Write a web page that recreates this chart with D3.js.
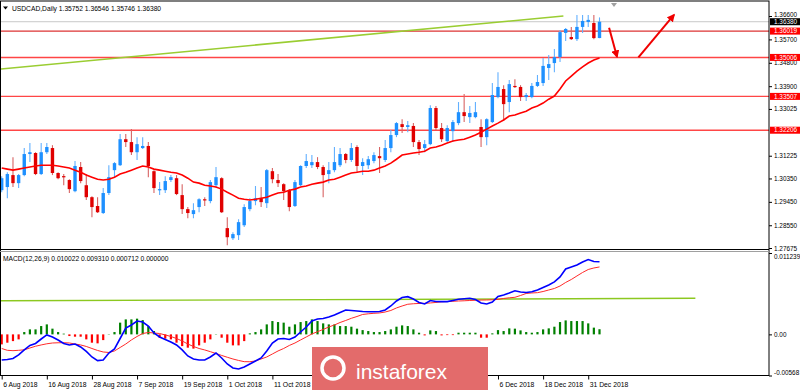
<!DOCTYPE html>
<html>
<head>
<meta charset="utf-8">
<script src="https://cdn.jsdelivr.net/npm/d3@7"></script>
<style>
  body { margin: 0; background: #fff; }
  svg { display: block; }
  text { font-family: "Liberation Sans", Arial, sans-serif; }
</style>
</head>
<body>
<div id="chart"></div>
<script>
// ---- data ----
const dateTicks = [0, 8, 16, 24, 32, 40, 48, 88, 96, 104];
const dateLabels = ["6 Aug 2018", "16 Aug 2018", "28 Aug 2018", "7 Sep 2018", "19 Sep 2018",
  "1 Oct 2018", "11 Oct 2018", "6 Dec 2018", "18 Dec 2018", "31 Dec 2018"];

const open = [1.2990,1.3002,1.3048,1.3017,1.3048,1.3129,1.3133,1.3052,1.3136,1.3152,
  1.3056,1.3044,1.3029,1.2986,1.3079,1.3009,1.2963,1.2929,1.2902,1.2979,
  1.3067,1.3086,1.3186,1.3175,1.3136,1.3152,1.3160,1.3063,1.2990,1.2990,
  1.3029,1.3036,1.2971,1.2917,1.2898,1.2925,1.2955,1.2948,1.3009,1.3036,
  1.2844,1.2805,1.2817,1.2855,1.2917,1.2948,1.2959,1.2940,1.3063,1.3029,
  1.3013,1.2990,1.2929,1.3009,1.3083,1.3086,1.3098,1.3079,1.3052,1.3067,
  1.3086,1.3129,1.3106,1.3156,1.3083,1.3086,1.3102,1.3121,1.3106,1.3152,
  1.3202,1.3244,1.3233,1.3237,1.3175,1.3152,1.3167,1.3306,1.3229,1.3179,
  1.3217,1.3248,1.3290,1.3271,1.3271,1.3233,1.3194,1.3252,1.3348,1.3379,
  1.3329,1.3391,1.3387,1.3348,1.3348,1.3391,1.3402,1.3460,1.3479,1.3502,
  1.3595,1.3579,1.3571,1.3618,1.3637,1.3633,1.35752];
const high = [1.3044,1.3059,1.3117,1.3052,1.3152,1.3171,1.3136,1.3171,1.3171,1.3163,
  1.3059,1.3052,1.3032,1.3102,1.3098,1.3052,1.2967,1.2963,1.2998,1.3086,
  1.3098,1.3206,1.3206,1.3225,1.3194,1.3194,1.3175,1.3067,1.3021,1.3044,
  1.3048,1.3048,1.3013,1.2925,1.2940,1.2959,1.2963,1.3029,1.3079,1.3040,
  1.2886,1.2828,1.2878,1.2936,1.2959,1.3006,1.3002,1.3071,1.3075,1.3052,
  1.3017,1.2994,1.3029,1.3086,1.3129,1.3125,1.3117,1.3086,1.3098,1.3156,
  1.3152,1.3133,1.3171,1.3163,1.3113,1.3121,1.3136,1.3156,1.3183,1.3221,
  1.3252,1.3263,1.3256,1.3248,1.3183,1.3183,1.3317,1.3314,1.3248,1.3240,
  1.3260,1.3329,1.3360,1.3314,1.3329,1.3263,1.3267,1.3402,1.3444,1.3394,
  1.3414,1.3417,1.3394,1.3364,1.3402,1.3433,1.3498,1.3510,1.3533,1.3606,
  1.3614,1.3618,1.3664,1.3664,1.3664,1.3664,1.36546];
const low = [1.2982,1.2959,1.3002,1.2998,1.3044,1.3098,1.3048,1.3048,1.3129,1.3048,
  1.3032,1.3009,1.2979,1.2982,1.3017,1.2952,1.2886,1.2902,1.2898,1.2971,
  1.3040,1.3083,1.3156,1.3125,1.3106,1.3148,1.3040,1.2979,1.2971,1.2979,
  1.3021,1.2971,1.2898,1.2882,1.2882,1.2905,1.2929,1.2940,1.2998,1.2902,
  1.2778,1.2798,1.2798,1.2848,1.2909,1.2932,1.2925,1.2921,1.3017,1.3002,
  1.2952,1.2909,1.2925,1.3006,1.3075,1.3075,1.3071,1.2963,1.3017,1.3059,
  1.3079,1.3094,1.3098,1.3059,1.3048,1.3071,1.3094,1.3056,1.3098,1.3136,
  1.3194,1.3210,1.3213,1.3156,1.3125,1.3136,1.3163,1.3221,1.3175,1.3175,
  1.3175,1.3240,1.3252,1.3248,1.3267,1.3156,1.3163,1.3248,1.3344,1.3256,
  1.3290,1.3383,1.3333,1.3333,1.3344,1.3387,1.3391,1.3414,1.3444,1.3483,
  1.3564,1.3568,1.3564,1.3595,1.3618,1.3571,1.35746];
const close = [1.3036,1.3052,1.3017,1.3048,1.3129,1.3136,1.3052,1.3136,1.3156,1.3056,
  1.3036,1.3040,1.2994,1.3083,1.3025,1.2963,1.2925,1.2905,1.2979,1.3040,
  1.3094,1.3186,1.3175,1.3136,1.3167,1.3160,1.3083,1.2998,1.2994,1.3025,
  1.3040,1.2975,1.2917,1.2902,1.2913,1.2955,1.2952,1.3021,1.3040,1.2905,
  1.2809,1.2821,1.2867,1.2925,1.2948,1.2959,1.2944,1.3067,1.3032,1.3017,
  1.2986,1.2925,1.3021,1.3083,1.3102,1.3098,1.3079,1.3048,1.3067,1.3098,
  1.3129,1.3106,1.3152,1.3083,1.3098,1.3109,1.3125,1.3113,1.3152,1.3202,
  1.3248,1.3233,1.3240,1.3175,1.3148,1.3167,1.3306,1.3229,1.3186,1.3229,
  1.3252,1.3290,1.3275,1.3287,1.3290,1.3194,1.3263,1.3356,1.3387,1.3321,
  1.3398,1.3387,1.3348,1.3356,1.3391,1.3406,1.3468,1.3475,1.3502,1.3598,
  1.3610,1.3571,1.3618,1.3641,1.3645,1.3575,1.36380];

const movingAvg = [1.3075,1.3071,1.3067,1.3071,1.3075,1.3079,1.3083,1.3086,1.3086,1.3086,
  1.3083,1.3079,1.3075,1.3067,1.3059,1.3048,1.3040,1.3032,1.3029,1.3032,
  1.3040,1.3052,1.3059,1.3067,1.3075,1.3083,1.3079,1.3071,1.3067,1.3063,
  1.3059,1.3056,1.3048,1.3036,1.3021,1.3017,1.3009,1.3006,1.3002,1.2994,
  1.2982,1.2971,1.2959,1.2955,1.2952,1.2955,1.2959,1.2963,1.2971,1.2979,
  1.2982,1.2990,1.2994,1.3002,1.3006,1.3013,1.3017,1.3021,1.3029,1.3032,
  1.3040,1.3048,1.3056,1.3059,1.3063,1.3063,1.3067,1.3075,1.3083,1.3094,
  1.3109,1.3125,1.3129,1.3133,1.3136,1.3140,1.3152,1.3156,1.3163,1.3171,
  1.3179,1.3183,1.3186,1.3194,1.3202,1.3213,1.3225,1.3237,1.3248,1.3260,
  1.3275,1.3279,1.3287,1.3294,1.3306,1.3314,1.3325,1.3340,1.3352,1.3379,
  1.3410,1.3429,1.3448,1.3464,1.3479,1.3491,1.3498];

const macdMain = [-0.00354,-0.00347,-0.00333,-0.00284,-0.00215,-0.00153,-0.00126,-0.00064,-0.00008,-0.00036,
  -0.00077,-0.00126,-0.00146,-0.00133,-0.00174,-0.00236,-0.00312,-0.00363,-0.00354,-0.00257,
  -0.00202,-0.00057,0.00088,0.00130,0.00185,0.00171,0.00116,0.00019,-0.00036,-0.00070,
  -0.00105,-0.00146,-0.00215,-0.00298,-0.00340,-0.00354,-0.00354,-0.00312,-0.00257,-0.00326,
  -0.00409,-0.00464,-0.00478,-0.00450,-0.00409,-0.00367,-0.00326,-0.00229,-0.00119,-0.00064,
  -0.00057,-0.00070,-0.00036,0.00033,0.00102,0.00185,0.00213,0.00220,0.00240,0.00268,
  0.00302,0.00337,0.00330,0.00323,0.00316,0.00313,0.00313,0.00316,0.00337,0.00392,
  0.00461,0.00510,0.00521,0.00489,0.00441,0.00420,0.00468,0.00454,0.00452,0.00452,
  0.00468,0.00485,0.00493,0.00499,0.00482,0.00434,0.00420,0.00447,0.00523,0.00544,
  0.00572,0.00603,0.00586,0.00579,0.00588,0.00613,0.00648,0.00682,0.00724,0.00793,
  0.00903,0.00931,0.00958,0.01000,0.01034,0.01007,0.010022];
const macdSignal = [-0.00195,-0.00220,-0.00225,-0.00220,-0.00213,-0.00188,-0.00164,-0.00146,-0.00130,-0.00119,
  -0.00116,-0.00115,-0.00119,-0.00133,-0.00146,-0.00167,-0.00195,-0.00222,-0.00243,-0.00250,
  -0.00229,-0.00181,-0.00133,-0.00077,-0.00029,0.00012,0.00026,0.00019,0.00012,-0.00008,
  -0.00029,-0.00057,-0.00091,-0.00133,-0.00167,-0.00195,-0.00215,-0.00239,-0.00264,-0.00291,
  -0.00316,-0.00340,-0.00360,-0.00377,-0.00378,-0.00367,-0.00340,-0.00312,-0.00271,-0.00229,
  -0.00195,-0.00153,-0.00119,-0.00077,-0.00036,0.00006,0.00037,0.00068,0.00102,0.00130,
  0.00164,0.00192,0.00222,0.00247,0.00275,0.00284,0.00291,0.00296,0.00309,0.00330,
  0.00365,0.00392,0.00416,0.00423,0.00427,0.00429,0.00434,0.00441,0.00450,0.00454,
  0.00457,0.00461,0.00464,0.00468,0.00471,0.00474,0.00475,0.00478,0.00483,0.00496,
  0.00505,0.00512,0.00537,0.00565,0.00572,0.00576,0.00592,0.00613,0.00634,0.00668,
  0.00717,0.00758,0.00807,0.00855,0.00896,0.00917,0.009310];
const macdHist = [-0.00138,-0.00115,-0.00093,-0.00069,0.00032,0.00069,0.00069,0.00115,0.00138,0.00079,
  0.00032,0.00010,-0.00023,-0.00032,-0.00032,-0.00069,-0.00115,-0.00124,-0.00079,0.00004,
  0.00032,0.00162,0.00207,0.00207,0.00217,0.00197,0.00115,0.00046,-0.00046,-0.00059,
  -0.00069,-0.00115,-0.00162,-0.00184,-0.00197,-0.00152,-0.00115,-0.00069,0.00004,-0.00046,
  -0.00115,-0.00152,-0.00152,-0.00093,0.00014,0.00032,0.00069,0.00138,0.00184,0.00170,
  0.00162,0.00106,0.00138,0.00170,0.00184,0.00207,0.00184,0.00152,0.00138,0.00138,
  0.00115,0.00115,0.00106,0.00079,0.00059,0.00046,0.00032,0.00032,0.00046,0.00069,
  0.00106,0.00124,0.00115,0.00069,0.00023,-0.00014,0.00055,0.00046,-0.00014,-0.00010,
  -0.00010,0.00023,0.00023,0.00023,0.00023,-0.00046,-0.00046,0.00014,0.00059,0.00046,
  0.00083,0.00079,0.00055,0.00032,0.00023,0.00032,0.00069,0.00083,0.00106,0.00170,
  0.00193,0.00184,0.00184,0.00184,0.00152,0.00093,0.000712];

const priceTicks = [1.36600, 1.35700, 1.34800, 1.33900, 1.33025, 1.31225, 1.30350, 1.29450, 1.28550, 1.27675];
const levelPrices = [1.36019, 1.35006, 1.33507, 1.32206];
const bidPrice = 1.36380;
const macdTicks = [0.011239, 0, -0.00568];
const macdTickLabels = ["0.011239", "0.00", "-0.00568"];

// drawn objects: [bar index, value]
const trendMain = [[-0.3, 1.3456], [99.6, 1.3660]];
const trendMacd = [[-0.3, 0.00465], [123.0, 0.00498]];
const arrowDown = [[107.7, 1.3615], [109.1, 1.3503]];
const arrowUp = [[112.9, 1.3501], [119.2, 1.3664]];

// ---- layout ----
const W = 800, H = 390, axisX = 769;
const x = d3.scaleLinear().domain([0, 106]).range([1.7, 599.5]);
const y = d3.scaleLinear().domain([1.27675, 1.36600]).range([248, 16]);
const ym = d3.scaleLinear().domain([-0.00568, 0.011239]).range([375.5, 253]);
const fs = 6.4;

const svg = d3.select("#chart").append("svg")
  .attr("width", W).attr("height", H)
  .style("background", "#fff");

const defs = svg.append("defs");
defs.append("clipPath").attr("id", "clipMain")
  .append("rect").attr("x", 1).attr("y", 2).attr("width", axisX - 1).attr("height", 246);
defs.append("clipPath").attr("id", "clipMacd")
  .append("rect").attr("x", 1).attr("y", 252).attr("width", axisX - 1).attr("height", 123);
defs.append("marker").attr("id", "arrowHead")
  .attr("viewBox", "0 0 10 10").attr("refX", 8).attr("refY", 5)
  .attr("markerWidth", 4).attr("markerHeight", 4).attr("orient", "auto")
  .append("path").attr("d", "M0,0 L10,5 L0,10 z").attr("fill", "#f00000");

const main = svg.append("g").attr("clip-path", "url(#clipMain)");
const sub = svg.append("g").attr("clip-path", "url(#clipMacd)");

// Horizontal levels
main.append("line")
  .attr("x1", 0).attr("x2", axisX).attr("y1", y(bidPrice)).attr("y2", y(bidPrice))
  .attr("stroke", "#c8c8c8").attr("stroke-width", 1);
main.selectAll(".level").data(levelPrices).join("line")
  .attr("x1", 0).attr("x2", axisX)
  .attr("y1", d => y(d)).attr("y2", d => y(d))
  .attr("stroke", (d, i) => i === 0 ? "#d40000" : "#ff4646")
  .attr("stroke-width", (d, i) => i === 0 ? 1 : 1.4);

// Green trend line
const lineXY = d3.line().x(d => x(d[0])).y(d => y(d[1]));
main.append("path").attr("d", lineXY(trendMain))
  .attr("fill", "none").attr("stroke", "#9acd32").attr("stroke-width", 1.6);

// Candles
const candles = open.map((o, i) => ({ i, o, h: high[i], l: low[i], c: close[i] }));
main.selectAll(".wick").data(candles).join("line")
  .attr("x1", d => x(d.i)).attr("x2", d => x(d.i))
  .attr("y1", d => y(d.h)).attr("y2", d => y(d.l))
  .attr("stroke", d => d.c >= d.o ? "#62b0ff" : "#d86464")
  .attr("stroke-width", 1.1);
main.selectAll(".body").data(candles).join("rect")
  .attr("x", d => x(d.i) - 1.7).attr("width", 3.4)
  .attr("y", d => y(Math.max(d.o, d.c)))
  .attr("height", d => Math.max(1.2, Math.abs(y(d.o) - y(d.c))))
  .attr("fill", d => d.c >= d.o ? "#1e90ff" : "#e00000");

// Moving average
main.append("path")
  .attr("d", d3.line().x((d, i) => x(i)).y(d => y(d))(movingAvg))
  .attr("fill", "none").attr("stroke", "#ff0000").attr("stroke-width", 1.6);

// Arrows
[arrowDown, arrowUp].forEach(a => {
  main.append("path").attr("d", lineXY(a))
    .attr("fill", "none").attr("stroke", "#f00000").attr("stroke-width", 2)
    .attr("marker-end", "url(#arrowHead)");
});

// MACD panel
sub.append("path")
  .attr("d", d3.line().x(d => x(d[0])).y(d => ym(d[1]))(trendMacd))
  .attr("fill", "none").attr("stroke", "#8cc820").attr("stroke-width", 1.4);
sub.selectAll(".hist").data(macdHist).join("rect")
  .attr("x", (d, i) => x(i) - 1.1).attr("width", 2.2)
  .attr("y", d => Math.min(ym(d), ym(0)))
  .attr("height", d => Math.abs(ym(d) - ym(0)))
  .attr("fill", d => d >= 0 ? "#008000" : "#ff0000");
sub.append("path")
  .attr("d", d3.line().x((d, i) => x(i)).y(d => ym(d))(macdSignal))
  .attr("fill", "none").attr("stroke", "#ff2a2a").attr("stroke-width", 1);
sub.append("path")
  .attr("d", d3.line().x((d, i) => x(i)).y(d => ym(d))(macdMain))
  .attr("fill", "none").attr("stroke", "#0000ff").attr("stroke-width", 1.6);

// Frame
svg.append("rect").attr("x", 0.5).attr("y", 1).attr("width", axisX - 0.5).attr("height", 374.5)
  .attr("fill", "none").attr("stroke", "#000").attr("stroke-width", 1);
svg.append("line").attr("x1", 0).attr("x2", axisX).attr("y1", 249.5).attr("y2", 249.5)
  .attr("stroke", "#000");
svg.append("line").attr("x1", 0).attr("x2", axisX).attr("y1", 251.5).attr("y2", 251.5)
  .attr("stroke", "#a0a0a0");

// Price axis
const yAxis = svg.append("g").attr("transform", `translate(${axisX},0)`)
  .call(d3.axisRight(y).tickValues(priceTicks).tickFormat(d3.format(".5f")).tickSize(3).tickPadding(2));
yAxis.select(".domain").remove();
yAxis.selectAll("text").attr("font-size", fs).attr("fill", "#000");
yAxis.selectAll(".tick").filter(d => d === priceTicks[0]).select("text").attr("dy", "0.05em");

const mAxis = svg.append("g").attr("transform", `translate(${axisX},0)`)
  .call(d3.axisRight(ym).tickValues(macdTicks).tickFormat((d, i) => macdTickLabels[i]).tickSize(3).tickPadding(2));
mAxis.select(".domain").remove();
mAxis.selectAll("text").attr("font-size", fs).attr("fill", "#000");
mAxis.selectAll(".tick").filter(d => d === macdTicks[0]).select("text").attr("dy", "0.85em");
mAxis.selectAll(".tick").filter(d => d === macdTicks[2]).select("text").attr("dy", "-0.2em");

// Level labels on the axis
const tags = [{ v: bidPrice, bg: "#000" }].concat(levelPrices.map(v => ({ v, bg: "#ff0000" })));
const tag = svg.selectAll(".tag").data(tags).join("g")
  .attr("transform", d => `translate(${axisX + 1},${y(d.v)})`);
tag.append("rect").attr("x", 0).attr("y", -3.5).attr("width", 30).attr("height", 7).attr("fill", d => d.bg);
tag.append("text").attr("x", 4).attr("dy", "0.35em").attr("font-size", fs)
  .attr("fill", "#fff").text(d => d.v.toFixed(5));

// Date axis
const xAxis = svg.append("g").attr("transform", "translate(0,375.5)")
  .call(d3.axisBottom(x).tickValues(dateTicks).tickFormat((d, i) => dateLabels[i]).tickSize(4).tickPadding(3));
xAxis.select(".domain").remove();
xAxis.selectAll("text").attr("font-size", 6.8).attr("fill", "#000")
  .attr("text-anchor", "start").attr("x", 1);

// Header texts
svg.append("path").attr("d", "M3,6.5 L8,6.5 L5.5,9.5 z").attr("fill", "#000");
svg.append("text").attr("x", 12).attr("y", 10.5).attr("font-size", fs + 0.3)
  .text("USDCAD,Daily  1.35752 1.36546 1.35746 1.36380");
svg.append("text").attr("x", 3).attr("y", 261).attr("font-size", fs + 0.3)
  .text("MACD(12,26,9) 0.010022 0.009310 0.000712 0.000000");

// chart shift marker
svg.append("path").attr("d", "M611,3 L617,3 L614,7 z").attr("fill", "#a0a0a0");

// Watermark
const logo = svg.append("g");
logo.append("rect").attr("x", 312).attr("y", 347).attr("width", 176).attr("height", 43)
  .attr("fill", "#e36b6b");
logo.append("circle").attr("cx", 333).attr("cy", 368).attr("r", 11)
  .attr("fill", "none").attr("stroke", "#fff").attr("stroke-width", 3.5);
logo.append("text").attr("x", 356).attr("y", 379).attr("font-size", 21)
  .attr("font-family", "'Open Sans', sans-serif").attr("fill", "#fff").text("instaforex");
</script>
</body>
</html>
